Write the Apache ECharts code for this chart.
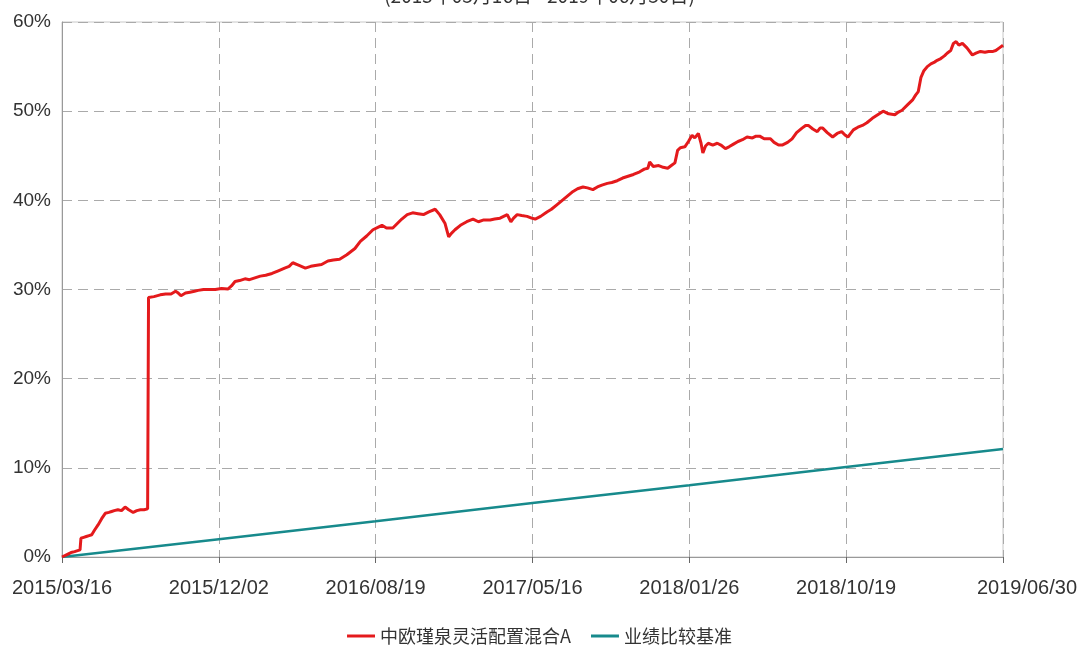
<!DOCTYPE html>
<html>
<head>
<meta charset="utf-8">
<title>中欧瑾泉灵活配置混合A</title>
<script src="https://cdn.jsdelivr.net/npm/echarts@6/dist/echarts.min.js"></script>
<style>
  html, body { margin: 0; padding: 0; background: #fff; }
  #main { width: 1079px; height: 651px; }
</style>
</head>
<body>
<div id="main"></div>
<script>
// x is the trading-day index since 2015/03/16, 174 days per label
const tickLabels = ['2015/03/16', '2015/12/02', '2016/08/19', '2017/05/16', '2018/01/26', '2018/10/19', '2019/06/30'];
const daysPerTick = 174;

// ten per row, fundValues rows line up with fundDays rows
const fundDays = [
  0, 6, 10, 14, 20, 21, 24, 27, 30, 33,
  36, 40, 44, 48, 52, 55, 58, 62, 66, 70,
  74, 79, 83, 87, 91, 95, 96, 102, 109, 115,
  121, 126, 129, 132, 137, 142, 147, 151, 157, 164,
  170, 177, 184, 188, 192, 197, 203, 208, 214, 220,
  226, 233, 240, 247, 252, 256, 263, 270, 276, 281,
  288, 295, 301, 308, 316, 325, 331, 338, 345, 351,
  355, 360, 367, 372, 377, 383, 389, 395, 401, 407,
  414, 419, 425, 429, 432, 436, 442, 449, 456, 462,
  468, 475, 480, 486, 490, 494, 498, 501, 505, 510,
  516, 521, 525, 531, 538, 543, 549, 555, 561, 567,
  572, 578, 583, 589, 594, 599, 605, 610, 616, 622,
  628, 634, 641, 646, 650, 652, 656, 662, 667, 672,
  676, 680, 683, 686, 691, 695, 699, 702, 706, 709,
  711, 714, 717, 722, 727, 731, 736, 740, 745, 750,
  755, 760, 766, 770, 774, 779, 786, 790, 795, 799,
  805, 810, 815, 821, 825, 828, 833, 838, 841, 844,
  849, 855, 860, 865, 869, 872, 875, 878, 883, 888,
  893, 899, 905, 911, 917, 924, 928, 932, 938, 944,
  947, 950, 953, 956, 960, 964, 968, 971, 975, 979,
  982, 986, 989, 992, 995, 999, 1004, 1010, 1014, 1019,
  1024, 1028, 1033, 1036, 1040, 1044];
const fundValues = [
  0, 0.3, 0.5, 0.6, 0.8, 2.1, 2.2, 2.3, 2.4, 2.5,
  3.0, 3.6, 4.3, 4.9, 5.0, 5.1, 5.2, 5.3, 5.2, 5.6,
  5.3, 5.0, 5.2, 5.3, 5.3, 5.4, 29.1, 29.2, 29.4, 29.5,
  29.5, 29.8, 29.6, 29.3, 29.6, 29.7, 29.8, 29.9, 30.0, 30.0,
  30.0, 30.1, 30.05, 30.4, 30.9, 31.0, 31.2, 31.1, 31.3, 31.5,
  31.6, 31.8, 32.1, 32.4, 32.6, 33.0, 32.7, 32.4, 32.6, 32.7,
  32.8, 33.2, 33.3, 33.4, 33.9, 34.6, 35.4, 36.0, 36.7, 37.0,
  37.2, 36.9, 36.9, 37.4, 37.9, 38.4, 38.6, 38.5, 38.4, 38.7,
  39.0, 38.4, 37.4, 35.9, 36.3, 36.7, 37.2, 37.6, 37.9, 37.6,
  37.8, 37.8, 37.9, 38.0, 38.2, 38.4, 37.6, 38.0, 38.4, 38.3,
  38.2, 38.0, 37.9, 38.2, 38.7, 39.0, 39.5, 40.0, 40.5, 41.0,
  41.3, 41.5, 41.4, 41.2, 41.5, 41.7, 41.9, 42.0, 42.2, 42.5,
  42.7, 42.9, 43.2, 43.5, 43.6, 44.3, 43.8, 43.9, 43.7, 43.6,
  43.9, 44.2, 45.6, 45.9, 46.0, 46.6, 47.3, 47.0, 47.5, 46.4,
  45.3, 46.1, 46.4, 46.2, 46.4, 46.2, 45.8, 46.0, 46.3, 46.6,
  46.8, 47.1, 47.0, 47.2, 47.2, 46.9, 46.9, 46.5, 46.2, 46.2,
  46.5, 46.9, 47.6, 48.1, 48.4, 48.4, 48.0, 47.7, 48.1, 48.1,
  47.6, 47.1, 47.5, 47.7, 47.3, 47.1, 47.5, 47.9, 48.2, 48.4,
  48.7, 49.2, 49.6, 50.0, 49.7, 49.6, 49.9, 50.1, 50.7, 51.3,
  51.8, 52.2, 53.8, 54.5, 55.0, 55.3, 55.5, 55.7, 55.9, 56.2,
  56.5, 56.8, 57.6, 57.8, 57.4, 57.6, 57.1, 56.3, 56.5, 56.7,
  56.6, 56.7, 56.7, 56.8, 57.1, 57.4];

const benchDays = [0, 174, 348, 522, 696, 870, 1044];
const benchValues = [0, 2.0, 4.0, 6.05, 8.05, 10.1, 12.1];

const lastDay = daysPerTick * (tickLabels.length - 1);
const font = "'Liberation Sans', Arial, sans-serif";
const cjk = "'Noto Sans CJK SC', sans-serif";

const chart = echarts.init(document.getElementById('main'));
chart.setOption({
  animation: false,
  title: {
    text: '(2015年03月16日 - 2019年06月30日)',
    left: 'center',
    top: -19,
    textStyle: { fontSize: 19, fontWeight: 'normal', color: '#333', fontFamily: cjk }
  },
  legend: {
    bottom: 1,
    left: 'center',
    icon: 'rect',
    itemWidth: 28,
    itemHeight: 3,
    itemGap: 20,
    textStyle: { fontSize: 18, color: '#333', fontFamily: cjk },
    data: ['中欧瑾泉灵活配置混合A', '业绩比较基准']
  },
  grid: {
    left: 62, right: 76, top: 22, bottom: 94,
    outerBoundsMode: 'none',
    show: true, borderColor: '#c8c8c8', borderWidth: 1
  },
  xAxis: {
    type: 'value',
    min: 0,
    max: lastDay,
    interval: daysPerTick,
    axisLine: { lineStyle: { color: '#999' } },
    axisTick: { show: true, length: 6, lineStyle: { color: '#666' } },
    splitLine: { show: true, lineStyle: { color: '#aaa', type: [10, 6] } },
    axisLabel: {
      margin: 21,
      fontSize: 20,
      color: '#333',
      fontFamily: font,
      showMaxLabel: true,
      formatter: function (v) {
        const i = Math.round(v / daysPerTick);
        if (v === lastDay) return '{last|' + tickLabels[i] + '}';
        return tickLabels[i];
      },
      rich: { last: { fontSize: 20, color: '#333', fontFamily: font, padding: [0, 0, 6, 48] } }
    }
  },
  yAxis: {
    type: 'value',
    min: 0,
    max: 60,
    interval: 10,
    axisLine: { show: true, lineStyle: { color: '#999' } },
    axisTick: { show: false },
    splitLine: { show: true, lineStyle: { color: '#aaa', type: [10, 6] } },
    axisLabel: { margin: 11, fontSize: 19, color: '#333', fontFamily: font, formatter: '{value}%' }
  },
  series: [
    {
      name: '中欧瑾泉灵活配置混合A',
      type: 'line',
      showSymbol: false,
      symbol: 'none',
      color: '#e41a1c',
      lineStyle: { width: 3, color: '#e41a1c' },
      data: fundDays.map((d, i) => [d, fundValues[i]]),
      z: 3
    },
    {
      name: '业绩比较基准',
      type: 'line',
      showSymbol: false,
      symbol: 'none',
      color: '#178a8c',
      lineStyle: { width: 2.5, color: '#178a8c' },
      data: benchDays.map((d, i) => [d, benchValues[i]]),
      z: 2
    }
  ]
});
</script>
</body>
</html>
